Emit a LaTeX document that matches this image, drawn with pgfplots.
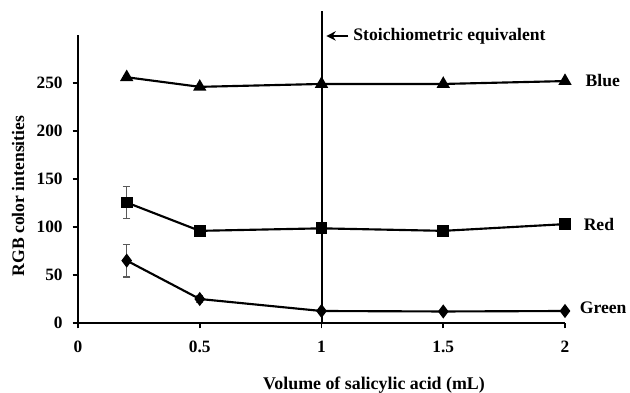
\documentclass[border=0pt]{standalone}
\usepackage{pgfplots}
\pgfplotsset{compat=1.18}
\usepackage{fontspec}
\setmainfont{Liberation Serif}
\usetikzlibrary{arrows.meta}
\begin{document}
\begin{tikzpicture}[x=0.75pt,y=0.75pt]
\path[use as bounding box] (0,0) rectangle (630,392);
\begin{axis}[
  at={(78pt*0.75,69pt*0.75)}, anchor=origin,
  scale only axis, width=365.25pt, height=216pt,
  xmin=0, xmax=2, ymin=0, ymax=300,
  axis lines=left, axis line style={-, line width=1.5pt},
  xtick={0,0.5,1,1.5,2}, ytick={0,50,100,150,200,250},
  xticklabels={\textbf{0},\textbf{0.5},\textbf{1},\textbf{1.5},\textbf{2}},
  yticklabels={\textbf{0},\textbf{50},\textbf{100},\textbf{150},\textbf{200},\textbf{250}},
  tick align=outside, major tick length=4pt, tick style={line width=1.2pt, black},
  ticklabel style={font=\fontsize{13}{14}\selectfont},
  xticklabel style={yshift=-6pt},
  yticklabel style={xshift=-4pt},
  clip=false,
]
\addplot[line width=1.6pt, black, mark=triangle*, mark size=4.2pt] coordinates {
 (0.2,256) (0.5,246) (1,249) (1.5,249) (2,252)};
\addplot[line width=1.6pt, black, mark=square*, mark size=3.6pt,
  error bars/.cd, y dir=both, y explicit, error bar style={line width=1pt, gray!70!black}, error mark options={rotate=90, mark size=2.8pt, line width=1pt, gray!70!black}] coordinates {
 (0.2,125.5) +- (0,16.5) (0.5,96) (1,98.6) (1.5,96) (2,103)};
\addplot[line width=1.6pt, black, mark=diamond*, mark size=4pt,
  error bars/.cd, y dir=both, y explicit, error bar style={line width=1pt, gray!70!black}, error mark options={rotate=90, mark size=2.8pt, line width=1pt, gray!70!black}] coordinates {
 (0.2,65) +- (0,17) (0.5,25) +- (0,3.5) (1,12.5) (1.5,12) (2,12.5)};
\draw[line width=1.5pt] (axis cs:1,0) -- (axis cs:1,325);
\draw[line width=1.6pt, -{Stealth[length=7pt,width=7pt]}] (axis cs:1.11,299) -- (axis cs:1.02,299);
\node[anchor=west, font=\bfseries\fontsize{13.2}{15}\selectfont, inner sep=0pt] at (axis cs:1.13,299) {Stoichiometric equivalent};
\node[anchor=west, font=\bfseries\fontsize{13.2}{15}\selectfont, inner sep=0pt] at (axis cs:2.084,253) {Blue};
\node[anchor=west, font=\bfseries\fontsize{13.2}{15}\selectfont, inner sep=0pt] at (axis cs:2.076,102.5) {Red};
\node[anchor=west, font=\bfseries\fontsize{13.2}{15}\selectfont, inner sep=0pt] at (axis cs:2.06,15.5) {Green};
\end{axis}
\node[rotate=90, font=\bfseries\fontsize{13.2}{15}\selectfont] at (18,196) {RGB color intensities};
\node[font=\bfseries\fontsize{13.4}{15}\selectfont] at (374,7) {Volume of salicylic acid (mL)};
\end{tikzpicture}
\end{document}
